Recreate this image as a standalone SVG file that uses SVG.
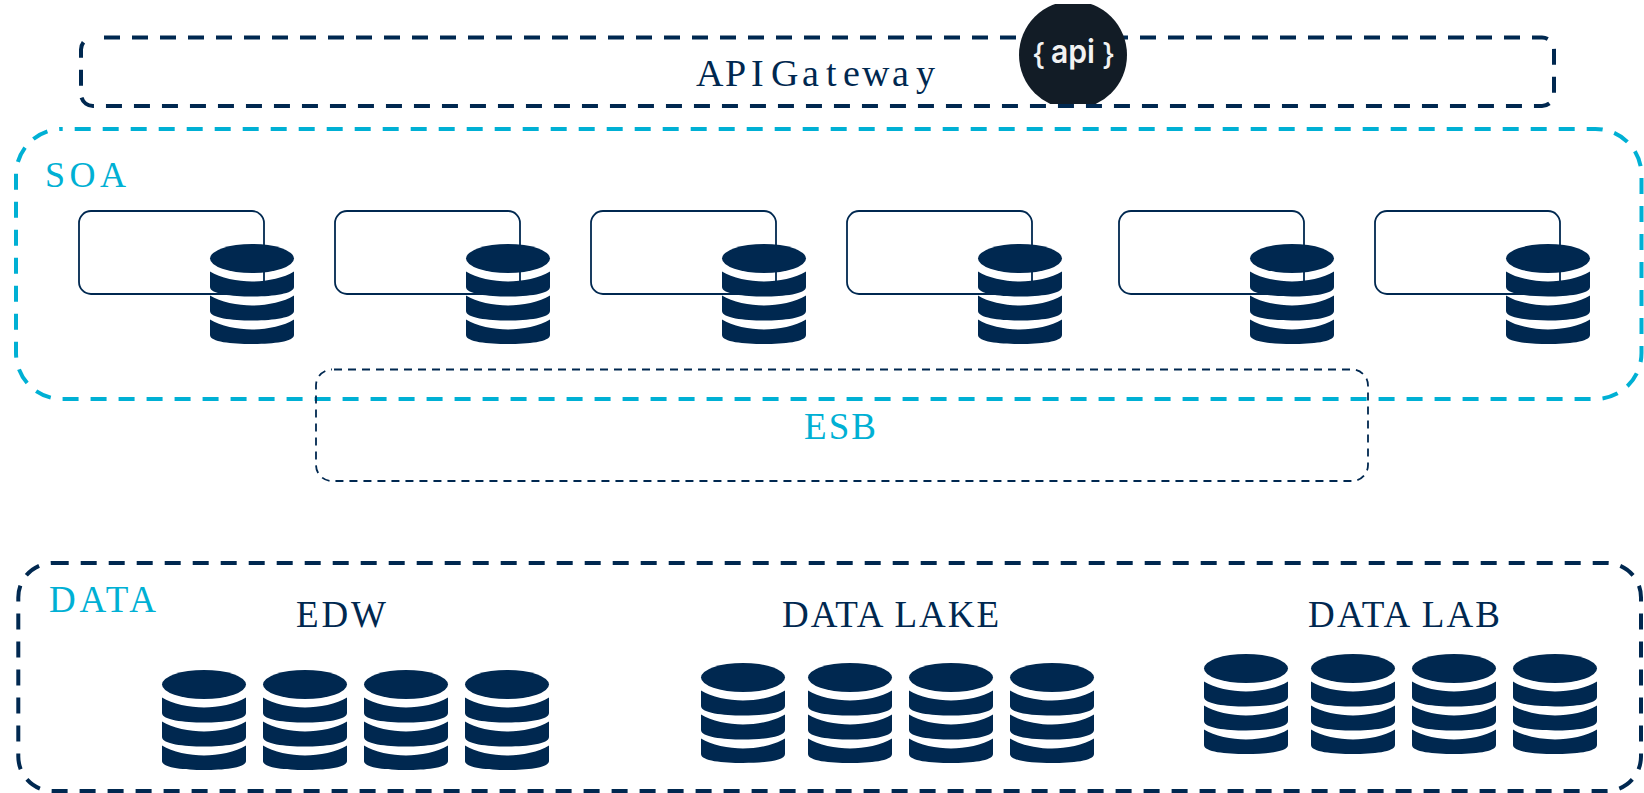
<svg xmlns="http://www.w3.org/2000/svg" width="1644" height="793" viewBox="0 0 1644 793">
<style>
.t{font-family:"Liberation Serif","Times New Roman",serif;font-size:37px}
.n{fill:#002850}.c{fill:#00b0d4}
.d{fill:none;stroke-width:4;stroke-dasharray:16 12}
.s{fill:none;stroke:#002850;stroke-width:1.8}
.i{fill:#f2f2f2;font-family:Inter,"Open Sans",sans-serif}
</style>
<defs>
<g id="db" fill="#002850">
<ellipse cx="42" cy="14.5" rx="42" ry="14.5"/>
<path d="M0,27.5C10,34 28,37.5 42,37.5C56,37.5 74,34 84,27.5V43C84,50 62,52.5 42,52.5C22,52.5 0,50 0,43Z"/>
<path d="M0,51.5C10,58 28,61.5 42,61.5C56,61.5 74,58 84,51.5V67C84,74 62,76.5 42,76.5C22,76.5 0,74 0,67Z"/>
<path d="M0,75.5C10,82 28,85.5 42,85.5C56,85.5 74,82 84,75.5V91C84,98 62,100 42,100C22,100 0,98 0,91Z"/>
</g>
<clipPath id="ac"><rect x="1000" y="4" width="150" height="100"/></clipPath>
</defs>
<g id="connectors"/>
<g id="api-gateway">
<rect x="81" y="37.5" width="1473" height="68.5" rx="12" class="d" stroke="#002850" stroke-dashoffset="17"/>
<text class="t n" x="696 725 751 765 771 802 826 843 862 892 916" y="86" style="font-size:38px">API Gateway</text>
</g>
<g id="api-icon">
<circle cx="1073" cy="55" r="54" fill="#121c26" clip-path="url(#ac)"/>
<text class="i" x="1032" y="65" font-weight="500" font-size="30">{</text>
<text class="i" x="1051" y="63" font-weight="600" font-size="33" textLength="44" lengthAdjust="spacingAndGlyphs">api</text>
<text class="i" x="1102" y="65" font-weight="500" font-size="30">}</text>
</g>
<g id="soa">
<rect x="16" y="129" width="1625.5" height="270" rx="46" class="d" stroke="#00b0d4" stroke-dashoffset="15.3"/>
<text class="t c" x="45" y="187" textLength="81" style="font-size:36px">SOA</text>
</g>
<g id="svc1"><rect x="79" y="211" width="185" height="83" rx="12" class="s"/><use href="#db" x="210" y="244"/></g>
<g id="svc2"><rect x="335" y="211" width="185" height="83" rx="12" class="s"/><use href="#db" x="466" y="244"/></g>
<g id="svc3"><rect x="591" y="211" width="185" height="83" rx="12" class="s"/><use href="#db" x="722" y="244"/></g>
<g id="svc4"><rect x="847" y="211" width="185" height="83" rx="12" class="s"/><use href="#db" x="978" y="244"/></g>
<g id="svc5"><rect x="1119" y="211" width="185" height="83" rx="12" class="s"/><use href="#db" x="1250" y="244"/></g>
<g id="svc6"><rect x="1375" y="211" width="185" height="83" rx="12" class="s"/><use href="#db" x="1506" y="244"/></g>
<g id="esb">
<rect x="316" y="369.5" width="1052" height="111.5" rx="16" class="s" stroke-dasharray="8 6" stroke-dashoffset="12"/>
<text class="t c" x="804" y="439" textLength="72">ESB</text>
</g>
<g id="data">
<rect x="18.3" y="563" width="1622.7" height="228" rx="34.4" class="d" stroke="#002850"/>
<text class="t c" x="49" y="612" textLength="107">DATA</text>
</g>
<g id="edw">
<text class="t n" x="296" y="627" textLength="90">EDW</text>
<use href="#db" x="162" y="670"/><use href="#db" x="263" y="670"/><use href="#db" x="364" y="670"/><use href="#db" x="465" y="670"/>
</g>
<g id="data-lake">
<text class="t n" x="782" y="627" textLength="217">DATA LAKE</text>
<use href="#db" x="701" y="663"/><use href="#db" x="808" y="663"/><use href="#db" x="909" y="663"/><use href="#db" x="1010" y="663"/>
</g>
<g id="data-lab">
<text class="t n" x="1308" y="627" textLength="192">DATA LAB</text>
<use href="#db" x="1204" y="654"/><use href="#db" x="1311" y="654"/><use href="#db" x="1412" y="654"/><use href="#db" x="1513" y="654"/>
</g>
</svg>
